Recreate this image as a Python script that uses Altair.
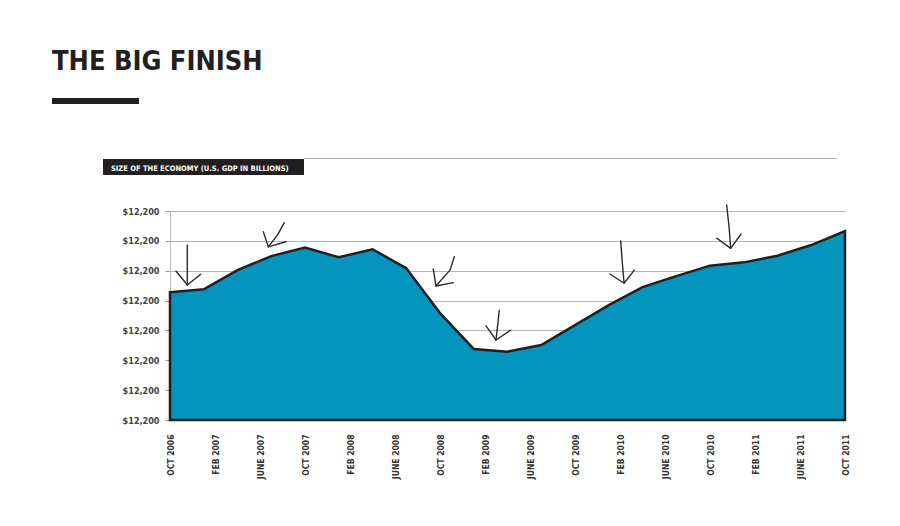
import altair as alt
import pandas as pd

# ---- data ----
months = [0, 3, 6, 9, 12, 15, 18, 21, 24, 27, 30, 33, 36, 39, 42, 45, 48, 51, 54, 57, 60]
gdp = [4.28, 4.38, 5.02, 5.49, 5.78, 5.45, 5.72, 5.08, 3.58, 2.38, 2.29, 2.51,
       3.18, 3.85, 4.45, 4.82, 5.17, 5.28, 5.50, 5.86, 6.33]

tick_months = [0, 4, 8, 12, 16, 20, 24, 28, 32, 36, 40, 44, 48, 52, 56, 60]
tick_labels = ["OCT 2006", "FEB 2007", "JUNE 2007", "OCT 2007", "FEB 2008", "JUNE 2008",
               "OCT 2008", "FEB 2009", "JUNE 2009", "OCT 2009", "FEB 2010", "JUNE 2010",
               "OCT 2010", "FEB 2011", "JUNE 2011", "OCT 2011"]
y_ticks = [0, 1, 2, 3, 4, 5, 6, 7]
y_label = "$12,200"

title_text = "THE BIG FINISH"
subtitle_text = "SIZE OF THE ECONOMY (U.S. GDP IN BILLIONS)"

# hand-drawn arrow annotations (stroke id, month, value)
arrow_stroke = ["a1s", "a1s", "a1h", "a1h", "a1h",
                "a2s", "a2s", "a2s", "a2h", "a2h", "a2h",
                "a3s", "a3s", "a3s", "a3h", "a3h", "a3h",
                "a4s", "a4s", "a4h", "a4h", "a4h",
                "a5s", "a5s", "a5s", "a5h", "a5h", "a5h",
                "a6s", "a6s", "a6s", "a6h", "a6h", "a6h"]
arrow_x = [1.54, 1.54, 0.53, 1.54, 2.73,
           10.16, 9.56, 8.74, 8.29, 8.74, 10.31,
           25.27, 24.89, 23.64, 23.40, 23.64, 25.18,
           29.27, 28.98, 28.09, 28.98, 30.28,
           40.06, 40.20, 40.36, 39.11, 40.36, 41.27,
           49.48, 49.70, 49.84, 48.60, 49.84, 50.76]
arrow_y = [5.86, 4.52, 4.99, 4.52, 4.88,
           6.61, 6.20, 5.80, 6.31, 5.80, 5.97,
           5.47, 5.02, 4.49, 5.06, 4.49, 4.60,
           3.68, 2.68, 3.15, 2.68, 3.01,
           6.00, 5.30, 4.58, 4.89, 4.58, 5.02,
           7.20, 6.45, 5.75, 6.09, 5.75, 6.23]

FONT = "DejaVu Sans Condensed, Liberation Sans Narrow, Arial Narrow, sans-serif"
DARK = "#231f20"

df = pd.DataFrame({"m": months, "v": gdp})
arrows = pd.DataFrame({"s": arrow_stroke, "m": arrow_x, "v": arrow_y,
                       "i": list(range(len(arrow_x)))})

label_expr = "[" + ",".join("'" + t + "'" for t in tick_labels) + "][indexof(" + str(tick_months) + ", datum.value)]"

xscale = alt.Scale(domain=[0, 60], nice=False, zero=False)
yscale = alt.Scale(domain=[0, 7], nice=False)

xaxis = alt.Axis(
    values=tick_months, labelExpr=label_expr, labelAngle=270, labelAlign="right",
    labelBaseline="middle", labelPadding=14, ticks=False, domain=False, grid=False,
    labelOverlap=False, labelFlush=False,
    labelFont=FONT, labelFontWeight="bold", labelFontSize=8.5, labelColor="#333333",
    title=None)
yaxis = alt.Axis(
    values=y_ticks, tickCount=8, labelExpr="'" + y_label + "'", tickSize=5, tickColor="#999999",
    domainColor="#bbbbbb", gridColor="#b5b5b5", grid=True, labelPadding=6,
    labelOverlap=False, labelFlush=False,
    labelFont=FONT, labelFontWeight="bold", labelFontSize=9, labelColor="#444444",
    title=None)

area = alt.Chart(df).mark_area(
    color="#0395bd", stroke=DARK, strokeWidth=2.5, strokeJoin="miter"
).encode(
    x=alt.X("m:Q", scale=xscale, axis=xaxis),
    y=alt.Y("v:Q", scale=yscale, axis=yaxis),
)

arrow_lines = alt.Chart(arrows).mark_line(
    color="#2b2b2b", strokeWidth=1.4, strokeCap="round", strokeJoin="round"
).encode(
    x=alt.X("m:Q", scale=xscale, axis=xaxis),
    y=alt.Y("v:Q", scale=yscale, axis=yaxis),
    detail="s:N",
    order="i:Q",
)

one = pd.DataFrame({"t": [title_text], "s": [subtitle_text]})

title = alt.Chart(one).mark_text(
    font=FONT, fontWeight="bold", fontSize=27, color=DARK, align="left", baseline="alphabetic"
).encode(x=alt.value(-118), y=alt.value(-141.5), text="t:N")

bar = alt.Chart(one).mark_rect(color=DARK).encode(
    x=alt.value(-118), x2=alt.value(-31), y=alt.value(-113), y2=alt.value(-107))

sub_box = alt.Chart(one).mark_rect(color=DARK).encode(
    x=alt.value(-67), x2=alt.value(134), y=alt.value(-52), y2=alt.value(-36))

sub_line = alt.Chart(one).mark_rule(color="#b0b0b0", strokeWidth=1).encode(
    x=alt.value(134), x2=alt.value(667), y=alt.value(-52.5))

sub_text = alt.Chart(one).mark_text(
    font=FONT, fontWeight="bold", fontSize=7.5, color="#ffffff", align="left", baseline="alphabetic"
).encode(x=alt.value(-59), y=alt.value(-40.5), text="s:N")

chart = alt.layer(area, arrow_lines, title, bar, sub_box, sub_line, sub_text).properties(
    width=675, height=209,
    autosize=alt.AutoSizeParams(type="none"),
    padding={"left": 170, "top": 211, "right": 55, "bottom": 106},
    background="#ffffff",
).configure_view(stroke=None)

chart.save("out.html", embed_options={"renderer": "svg", "actions": False})
